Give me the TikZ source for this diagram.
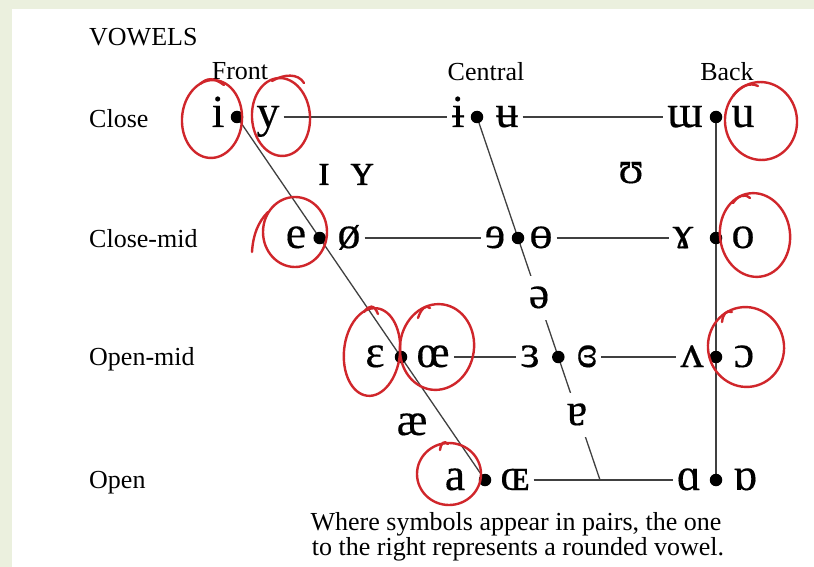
\documentclass[tikz,border=0pt]{standalone}
\usepackage{fontspec}
\setmainfont{Liberation Serif}
\newfontfamily\ipafont[FakeBold=0.3]{Liberation Serif}
\usetikzlibrary{backgrounds}
\definecolor{bggreen}{HTML}{EBF0DE}
\definecolor{pen}{HTML}{D0262B}
\definecolor{linegray}{HTML}{404040}
\begin{document}
\begin{tikzpicture}[x=1pt,y=-1pt,
  ipa/.style={anchor=base, font=\ipafont\fontsize{46}{50}\selectfont, text height=20pt, text depth=0pt, inner ysep=0pt, inner xsep=4pt},
  lab/.style={anchor=base, font=\fontsize{26}{28}\selectfont, inner sep=0pt},
  labw/.style={lab, anchor=base west},
  vdot/.style={circle, fill=black, inner sep=0pt, minimum size=12.5pt},
  rowline/.style={draw=linegray, line width=1.8pt},
  slant/.style={draw=linegray, line width=1.3pt},
  ring/.style={draw=pen, line width=2.4pt, line cap=round, line join=round},
  gapnode/.style={ipa, fill=white, minimum height=44pt},
]
\useasboundingbox (0,0) rectangle (814,567);

% labels
\node[labw] (title) at (89,46) {VOWELS};
\node[lab] (front) at (240,80) {Front};
\node[lab] (central) at (486,81) {Central};
\node[lab] (back) at (727,81) {Back};
\node[labw] (lclose) at (89,128) {Close};
\node[labw] (lclosemid) at (89,247) {Close-mid};
\node[labw] (lopenmid) at (89,365) {Open-mid};
\node[labw] (lopen) at (89,488) {Open};
\node[lab] (foot1) at (516,530) {Where symbols appear in pairs, the one};
\node[lab] (foot2) at (518,555) {to the right represents a rounded vowel.};

% close row
\node[ipa] (v-i) at (218,127) {i};
\node[ipa] (v-y) at (268,127) {y};
\node[ipa] (v-ibar) at (458,127) {ɨ};
\node[ipa] (v-ubar) at (507,127) {ʉ};
\node[ipa] (v-turnm) at (685,127) {ɯ};
\node[ipa] (v-u) at (743,127) {u};
% near close
\node[ipa] (v-smi) at (324,185) {ɪ};
\node[ipa] (v-smy) at (362,185) {ʏ};
\node[ipa] (v-upsilon) at (631,183) {ʊ};
% close-mid row
\node[ipa] (v-e) at (296,248) {e};
\node[ipa] (v-oslash) at (349,248) {ø};
\node[ipa] (v-reve) at (495,248) {ɘ};
\node[ipa] (v-baro) at (541,248) {ɵ};
\node[ipa] (v-ramshorn) at (683,248) {ɤ};
\node[ipa] (v-o) at (743,248) {o};
% open-mid row
\node[ipa] (v-eps) at (375,367) {ɛ};
\node[ipa] (v-oe) at (433,367) {œ};
\node[ipa] (v-reveps) at (530,367) {ɜ};
\node[ipa] (v-closedreveps) at (587,367) {ɞ};
\node[ipa] (v-turnv) at (692,367) {ʌ};
\node[ipa] (v-openo) at (744,367) {ɔ};
% open row
\node[ipa] (v-a) at (455,490) {a};
\node[ipa] (v-smoe) at (515,490) {ɶ};
\node[ipa] (v-scripta) at (689,490) {ɑ};
\node[ipa] (v-turnscripta) at (745,490) {ɒ};
% near open
\node[ipa] (v-ae) at (412,435) {æ};

% dots
\node[vdot] (d-close-f) at (237,117) {};
\node[vdot] (d-close-c) at (477,117) {};
\node[vdot] (d-close-b) at (716,117) {};
\node[vdot] (d-cmid-f) at (319.7,238) {};
\node[vdot] (d-cmid-c) at (518,238) {};
\node[vdot] (d-cmid-b) at (716,238) {};
\node[vdot] (d-omid-f) at (401,357) {};
\node[vdot] (d-omid-c) at (558.3,357) {};
\node[vdot] (d-omid-b) at (716,357) {};
\node[vdot] (d-open-f) at (485,480) {};
\node[vdot] (d-open-b) at (716,480) {};
\coordinate (junction) at (600,480);

\begin{pgfonlayer}{background}
  \fill[bggreen] (0,0) rectangle (814,567);
  \fill[white] (12,9) rectangle (814,567);
  % horizontal lines
  \draw[rowline] (v-y.east) -- (v-ibar.west);
  \draw[rowline] (v-ubar.east) -- (v-turnm.west);
  \draw[rowline] (v-oslash.east) -- (v-reve.west);
  \draw[rowline] (v-baro.east) -- (v-ramshorn.west);
  \draw[rowline] (v-oe.east) -- (v-reveps.west);
  \draw[rowline] (v-closedreveps.east) -- (v-turnv.west);
  \draw[rowline] (v-smoe.east) -- (v-scripta.west);
  % slanted / vertical
  \draw[slant] (d-close-f.center) -- (d-open-f.center);
  \draw[slant] (d-close-c.center) -- (junction);
  \draw[slant] (d-close-b.center) -- (d-open-b.center);
\end{pgfonlayer}

% symbols that interrupt the central line
\node[gapnode] (v-schwa) at (539,308) {ə};
\node[gapnode] (v-turna) at (577,425) {ɐ};

% red hand-drawn rings
\draw[ring, rotate around={-4:(212,119)}] (212,119) ellipse [x radius=30, y radius=39];
\draw[ring] (200,84) .. controls (207,78) and (213,77) .. (224,85);
\draw[ring, rotate around={4:(281,117)}] (281,117) ellipse [x radius=29, y radius=39];
\draw[ring] (272,81) .. controls (284,74) and (298,73) .. (304,83);
\draw[ring, rotate around={6:(761,121)}] (761,121) ellipse [x radius=36, y radius=39];
\draw[ring] (733,96) .. controls (740,86) and (750,82) .. (758,86);
\draw[ring, rotate around={8:(755,235)}] (755,235) ellipse [x radius=35, y radius=42];
\draw[ring] (733,203) .. controls (738,196) and (744,193) .. (750,198);
\draw[ring] (295,232) ellipse [x radius=32, y radius=35];
\draw[ring] (252,252) .. controls (253,235) and (258,222) .. (268,212);
\draw[ring, rotate around={-6:(372,352)}] (372,352) ellipse [x radius=28, y radius=44];
\draw[ring] (364,312) .. controls (369,305) and (374,304) .. (378,314);
\draw[ring, rotate around={-8:(437,347)}] (437,347) ellipse [x radius=37, y radius=43];
\draw[ring] (418,318) .. controls (421,309) and (426,304) .. (430,308);
\draw[ring, rotate around={10:(746,347)}] (746,347) ellipse [x radius=38, y radius=40];
\draw[ring] (722,322) .. controls (723,314) and (726,310) .. (732,312);
\draw[ring] (449,474) ellipse [x radius=32, y radius=31];
\draw[ring] (440,450) .. controls (441,443) and (444,440) .. (448,444);
\end{tikzpicture}
\end{document}
